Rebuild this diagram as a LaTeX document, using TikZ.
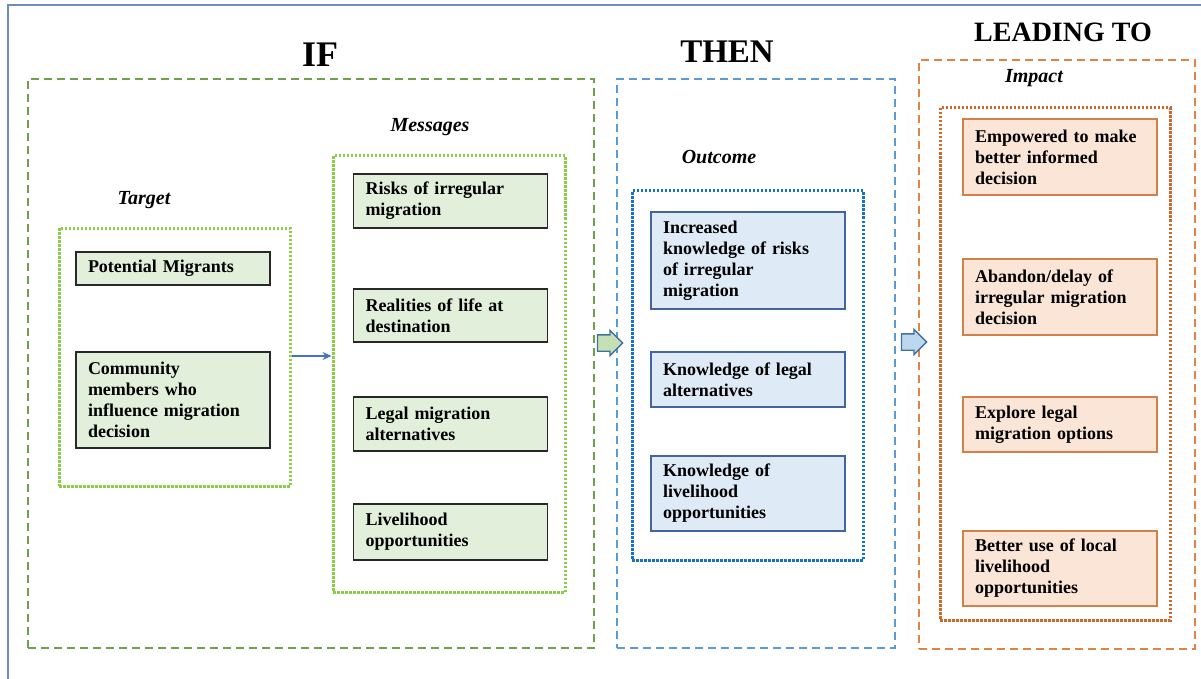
\documentclass[tikz,border=0pt]{standalone}
\usepackage{fontspec}
\setmainfont{Liberation Serif}
\usetikzlibrary{shapes.arrows,arrows.meta}

% palette
\definecolor{frameblue}{RGB}{110,140,190}
\definecolor{ifgreen}{RGB}{112,160,76}
\definecolor{lightgreen}{RGB}{140,205,70}
\definecolor{greenfill}{RGB}{226,239,218}
\definecolor{boxdark}{RGB}{40,40,40}
\definecolor{thenblue}{RGB}{91,155,213}
\definecolor{dotblue}{RGB}{20,115,200}
\definecolor{bluefill}{RGB}{222,235,247}
\definecolor{blueedge}{RGB}{68,100,160}
\definecolor{orange}{RGB}{225,130,70}
\definecolor{dotorange}{RGB}{205,105,45}
\definecolor{orangefill}{RGB}{251,229,214}
\definecolor{orangeedge}{RGB}{212,128,74}
\definecolor{arrowgreen}{RGB}{197,224,180}
\definecolor{arrowblue}{RGB}{189,215,238}
\definecolor{arrowedge}{RGB}{65,113,156}
\definecolor{linkblue}{RGB}{68,114,196}

\tikzset{
  frame/.style={draw, line width=1.8pt, dash pattern=on 8pt off 5pt, inner sep=0pt},
  group/.style={draw, line width=3pt, dash pattern=on 2.5pt off 1.5pt, inner sep=0pt},
  item/.style={draw, line width=1.4pt, inner xsep=12pt, inner ysep=0pt, align=left,
    text width=170pt, minimum width=194pt, font=\bfseries\fontsize{18}{21}\selectfont},
  greenitem/.style={item, fill=greenfill, draw=boxdark},
  blueitem/.style={item, fill=bluefill, draw=blueedge},
  orangeitem/.style={item, fill=orangefill, draw=orangeedge},
  title/.style={font=\bfseries\fontsize{36}{40}\selectfont},
  caption/.style={font=\bfseries\itshape\fontsize{20}{24}\selectfont},
  blockarrow/.style={single arrow, draw=arrowedge, line width=1.3pt, inner sep=7.5pt,
    minimum height=25pt, single arrow head extend=4.5pt}
}

\begin{document}
\begin{tikzpicture}[x=1pt, y=-1pt]
\useasboundingbox (0,0) rectangle (1201,679);

% page frame (top and left edges visible)
\draw[frameblue, line width=2pt] (8,679) -- (8,5) -- (1201,5);

% column titles
\node[title] (tif) at (320,55) {IF};
\node[title, font=\bfseries\fontsize{33}{38}\selectfont] (tthen) at (727,52) {THEN};
\node[title, font=\bfseries\fontsize{28}{32}\selectfont] (tlead) at (1063,32) {LEADING TO};

% column frames
\node[frame, draw=ifgreen, minimum width=566pt, minimum height=569pt] (ifbox) at (311,363.5) {};
\node[frame, draw=thenblue, minimum width=278pt, minimum height=569pt] (thenbox) at (756,363.5) {};
\node[frame, draw=orange, minimum width=276pt, minimum height=589pt] (leadbox) at (1057,354.5) {};

% group captions
\node[caption] (ctarget) at (144,200) {Target};
\node[caption] (cmsg) at (430,127) {Messages};
\node[caption] (cout) at (719,157) {Outcome};
\node[caption] (cimp) at (1034,78) {Impact};

% groups
\node[group, draw=lightgreen, minimum width=231pt, minimum height=258pt] (target) at (174.5,357) {};
\node[group, draw=lightgreen, minimum width=232pt, minimum height=436pt] (messages) at (449,374) {};
\node[group, draw=dotblue, minimum width=231pt, minimum height=369pt] (outcome) at (747.5,375.5) {};
\node[group, draw=dotorange, minimum width=230pt, minimum height=512pt] (impact) at (1055,364) {};

% target items
\node[greenitem, minimum height=33pt] (pm) at (173,268.5) {Potential Migrants};
\node[greenitem, minimum height=96pt] (cm) at (173,400) {Community\\members who\\influence migration\\decision};

% message items
\node[greenitem, minimum height=54pt] (m1) at (450.5,201) {Risks of irregular\\migration};
\node[greenitem, minimum height=53pt] (m2) at (450.5,315.5) {Realities of life at\\destination};
\node[greenitem, minimum height=54pt] (m3) at (450.5,424) {Legal migration\\alternatives};
\node[greenitem, minimum height=56pt] (m4) at (450.5,532) {Livelihood\\opportunities};

% outcome items
\node[blueitem, minimum height=97pt] (o1) at (748,260.5) {Increased\\knowledge of risks\\of irregular\\migration};
\node[blueitem, minimum height=55pt] (o2) at (748,379.5) {Knowledge of legal\\alternatives};
\node[blueitem, minimum height=75pt] (o3) at (748,493.5) {Knowledge of\\livelihood\\opportunities};

% impact items
\node[orangeitem, minimum height=76pt] (i1) at (1060,157) {Empowered to make\\better informed\\decision};
\node[orangeitem, minimum height=76pt] (i2) at (1060,297) {Abandon/delay of\\irregular migration\\decision};
\node[orangeitem, minimum height=55pt] (i3) at (1060,424.5) {Explore legal\\migration options};
\node[orangeitem, minimum height=75pt] (i4) at (1060,568.5) {Better use of local\\livelihood\\opportunities};

% links
\draw[-{Stealth[length=9pt,width=8pt]}, linkblue, line width=1.2pt]
  (target.east |- 0,356) coordinate (tlink) -- (tlink -| messages.west);
\node[blockarrow, fill=arrowgreen] (a1) at (606,343) {};
\node[blockarrow, fill=arrowblue] (a2) at (910,342) {};
\end{tikzpicture}
\end{document}
